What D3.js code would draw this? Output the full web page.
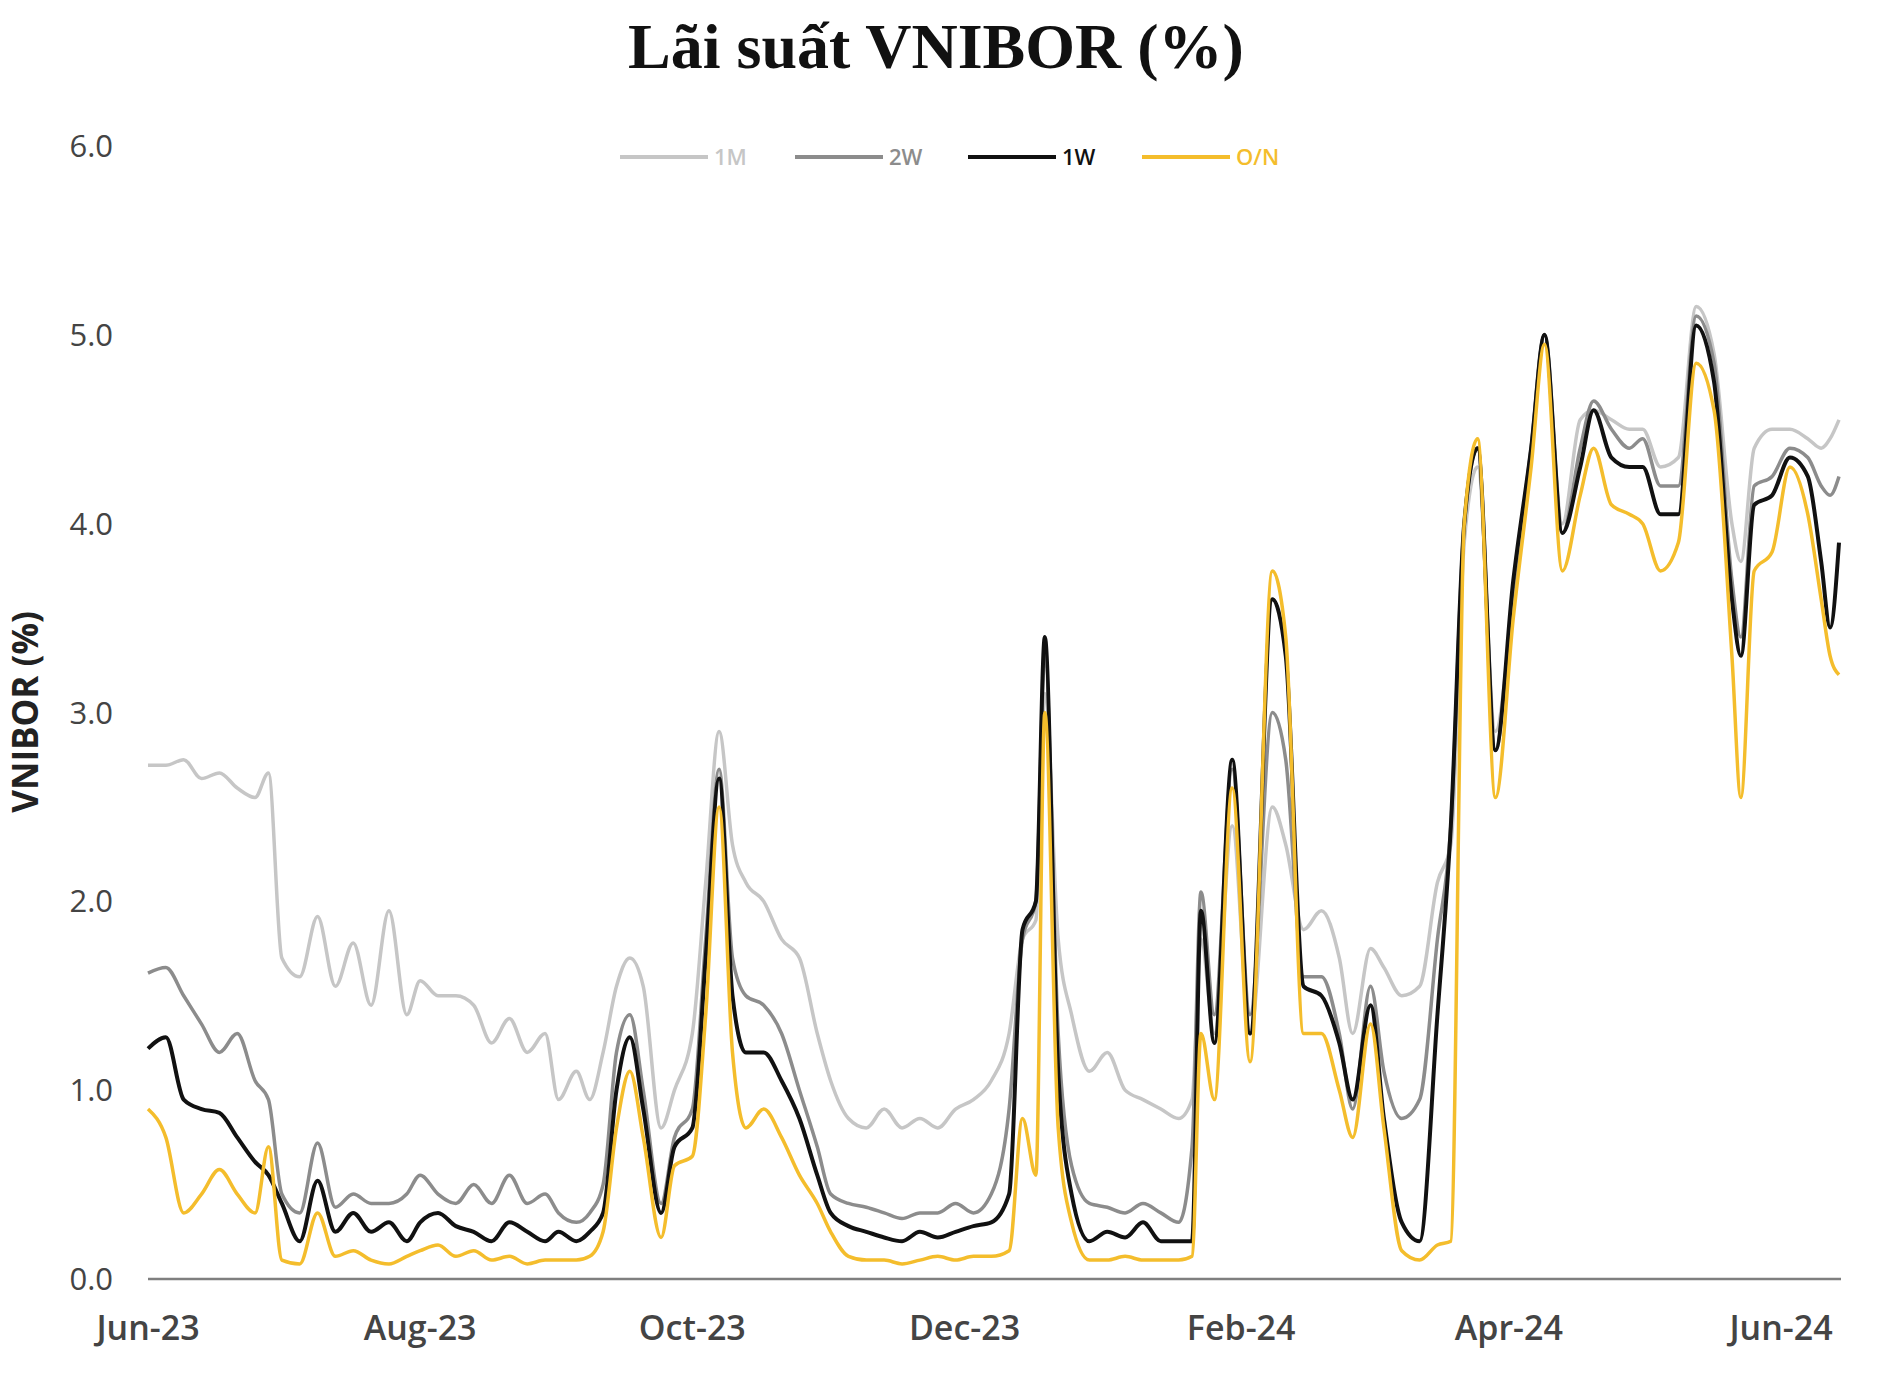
<!DOCTYPE html>
<html><head><meta charset="utf-8">
<script src="https://cdn.jsdelivr.net/npm/d3@7"></script>
<style>body{margin:0;background:#fff}</style>
</head><body>
<svg id="chart" width="1904" height="1376"></svg>
<script>
var dates = ["2023-06-01","2023-06-05","2023-06-09","2023-06-13","2023-06-17","2023-06-21","2023-06-25","2023-06-28",
"2023-07-01","2023-07-05","2023-07-09","2023-07-13","2023-07-17","2023-07-21","2023-07-25","2023-07-29",
"2023-08-01","2023-08-05","2023-08-09","2023-08-13","2023-08-17","2023-08-21","2023-08-25","2023-08-29",
"2023-09-01","2023-09-05","2023-09-08","2023-09-11","2023-09-14","2023-09-17","2023-09-20","2023-09-24","2023-09-27",
"2023-10-01","2023-10-04","2023-10-07","2023-10-10","2023-10-13","2023-10-17","2023-10-21","2023-10-25","2023-10-29",
"2023-11-01","2023-11-05","2023-11-09","2023-11-13","2023-11-17","2023-11-21","2023-11-25","2023-11-29",
"2023-12-03","2023-12-07","2023-12-11","2023-12-14","2023-12-17","2023-12-19","2023-12-22","2023-12-25","2023-12-29",
"2024-01-02","2024-01-06","2024-01-10","2024-01-14","2024-01-18","2024-01-21","2024-01-23","2024-01-26","2024-01-30",
"2024-02-03","2024-02-08","2024-02-11","2024-02-15","2024-02-19","2024-02-23","2024-02-26",
"2024-03-01","2024-03-04","2024-03-08","2024-03-12","2024-03-16","2024-03-19","2024-03-22","2024-03-25","2024-03-29",
"2024-04-02","2024-04-06","2024-04-09","2024-04-13","2024-04-17","2024-04-20","2024-04-24","2024-04-28",
"2024-05-01","2024-05-05","2024-05-09","2024-05-13","2024-05-17","2024-05-21","2024-05-23","2024-05-26","2024-05-30",
"2024-06-03","2024-06-07","2024-06-10","2024-06-12","2024-06-14"];

var m1 = [2.72,2.72,2.75,2.65,2.68,2.60,2.55,2.68, 1.70,1.60,1.92,1.55,1.78,1.45,1.95,1.40,
1.58,1.50,1.50,1.45,1.25,1.38,1.20,1.30, 0.95,1.10,0.95,1.20,1.55,1.70,1.55,0.80,1.00,
1.30,2.10,2.90,2.30,2.10,2.00,1.80,1.70,1.30, 1.05,0.85,0.80,0.90,0.80,0.85,0.80,0.90,
0.95,1.05,1.30,1.80,1.90,3.10,1.80,1.40,1.10, 1.20,1.00,0.95,0.90,0.85,0.95,1.80,1.30,2.40,
1.30,2.50,2.30,1.85,1.95,1.70,1.30, 1.75,1.65,1.50,1.55,2.10,2.30,3.90,4.30,2.90,
3.60,4.40,5.00,4.00,4.55,4.60,4.55,4.50, 4.50,4.30,4.35,5.15,4.90,4.00,3.80,4.40,4.50,
4.50,4.45,4.40,4.45,4.55];
var w2 = [1.62,1.65,1.50,1.35,1.20,1.30,1.05,0.95, 0.45,0.35,0.72,0.38,0.45,0.40,0.40,0.45,
0.55,0.45,0.40,0.50,0.40,0.55,0.40,0.45, 0.35,0.30,0.35,0.50,1.20,1.40,1.00,0.40,0.75,
0.90,1.80,2.70,1.70,1.50,1.45,1.30,1.00,0.70, 0.45,0.40,0.38,0.35,0.32,0.35,0.35,0.40,
0.35,0.45,0.90,1.80,2.00,3.30,1.30,0.60,0.40, 0.38,0.35,0.40,0.35,0.30,0.70,2.05,1.40,2.70,
1.40,3.00,2.75,1.60,1.60,1.30,0.90, 1.55,1.10,0.85,0.95,1.80,2.40,4.00,4.40,2.80,
3.65,4.40,5.00,3.95,4.40,4.65,4.50,4.40, 4.45,4.20,4.20,5.10,4.85,3.70,3.40,4.20,4.25,
4.40,4.35,4.20,4.15,4.25];
var w1 = [1.22,1.28,0.95,0.90,0.88,0.75,0.62,0.55, 0.40,0.20,0.52,0.25,0.35,0.25,0.30,0.20,
0.30,0.35,0.28,0.25,0.20,0.30,0.25,0.20, 0.25,0.20,0.25,0.35,1.00,1.28,0.90,0.35,0.70,
0.80,1.70,2.65,1.50,1.20,1.20,1.05,0.85,0.55, 0.35,0.28,0.25,0.22,0.20,0.25,0.22,0.25,
0.28,0.30,0.45,1.85,2.00,3.40,1.10,0.45,0.20, 0.25,0.22,0.30,0.20,0.20,0.20,1.95,1.25,2.75,
1.30,3.60,3.30,1.55,1.50,1.25,0.95, 1.45,0.85,0.30,0.20,1.40,2.40,4.00,4.40,2.80,
3.70,4.40,5.00,3.95,4.30,4.60,4.35,4.30, 4.30,4.05,4.05,5.05,4.75,3.60,3.30,4.10,4.15,
4.35,4.25,3.80,3.45,3.90];
var on = [0.90,0.75,0.35,0.45,0.58,0.45,0.35,0.70, 0.10,0.08,0.35,0.12,0.15,0.10,0.08,0.12,
0.15,0.18,0.12,0.15,0.10,0.12,0.08,0.10, 0.10,0.10,0.12,0.25,0.80,1.10,0.75,0.22,0.60,
0.65,1.40,2.50,1.20,0.80,0.90,0.75,0.55,0.40, 0.25,0.12,0.10,0.10,0.08,0.10,0.12,0.10,
0.12,0.12,0.15,0.85,0.55,3.00,0.80,0.30,0.10, 0.10,0.12,0.10,0.10,0.10,0.12,1.30,0.95,2.60,
1.15,3.75,3.40,1.30,1.30,1.00,0.75, 1.35,0.80,0.15,0.10,0.18,0.20,4.00,4.45,2.55,
3.50,4.30,4.95,3.75,4.15,4.40,4.10,4.05, 4.00,3.75,3.90,4.85,4.60,3.30,2.55,3.75,3.85,
4.30,4.05,3.60,3.30,3.20];

var seriesNames = ["1M","2W","1W","O/N"];
var seriesColors = ["#c6c6c6","#8c8c8c","#111111","#f4bd2c"];
var yTicks = [0,1,2,3,4,5,6];
var xTickLabels = ["Jun-23","Aug-23","Oct-23","Dec-23","Feb-24","Apr-24","Jun-24"];

var parse = d3.timeParse("%Y-%m-%d");
var svg = d3.select("#chart");
// Jun-23 .. Jun-24 label positions, last data point runs a bit past
var x = d3.scaleTime().domain([parse("2023-06-01"), parse("2024-06-01")]).range([148, 1781]);
var y = d3.scaleLinear().domain([0, 6]).range([1279, 146]);
var xEnd = x(parse(dates[dates.length - 1]));

svg.append("text").attr("x", 936).attr("y", 68).attr("text-anchor", "middle")
  .attr("font-family", "Liberation Serif, serif").attr("font-weight", "bold")
  .attr("font-size", 64).attr("fill", "#111").text("Lãi suất VNIBOR (%)");

svg.selectAll(".ytick").data(yTicks).enter().append("text")
  .attr("x", 113).attr("y", function(d){ return y(d) + 11; }).attr("text-anchor", "end")
  .attr("font-family", "Open Sans").attr("font-size", 31).attr("fill", "#444")
  .text(function(d){ return d.toFixed(1); });

var xTickDates = xTickLabels.map(function(l){ return d3.timeParse("%b-%y")(l); });
svg.selectAll(".xtick").data(xTickLabels).enter().append("text")
  .attr("x", function(d, i){ return x(xTickDates[i]); }).attr("y", 1340).attr("text-anchor", "middle")
  .attr("font-family", "Open Sans").attr("font-weight", 600).attr("font-size", 34).attr("fill", "#444")
  .text(function(d){ return d; });

svg.append("line").attr("x1", 148).attr("x2", xEnd + 2).attr("y1", y(0)).attr("y2", y(0))
  .attr("stroke", "#7f7f7f").attr("stroke-width", 2.5);

svg.append("text").attr("transform", "translate(38,712) rotate(-90)").attr("text-anchor", "middle")
  .attr("font-family", "Open Sans").attr("font-weight", "bold").attr("font-size", 35).attr("fill", "#222")
  .text("VNIBOR (%)");

var allSeries = [m1, w2, w1, on];
var line = d3.line().x(function(d){ return x(d.date); }).y(function(d){ return y(d.v); }).curve(d3.curveMonotoneX);
allSeries.forEach(function(vals, k){
  var pts = dates.map(function(dt, i){ return {date: parse(dt), v: vals[i]}; });
  svg.append("path").datum(pts).attr("d", line).attr("fill", "none")
    .attr("stroke", seriesColors[k]).attr("stroke-width", k == 2 ? 4 : 3.5).attr("stroke-linejoin", "round");
});

var legX = [620, 795, 968, 1142];
seriesNames.forEach(function(n, k){
  svg.append("line").attr("x1", legX[k]).attr("x2", legX[k] + 88).attr("y1", 157).attr("y2", 157)
    .attr("stroke", seriesColors[k]).attr("stroke-width", 4);
  svg.append("text").attr("x", legX[k] + 94).attr("y", 165).attr("font-family", "Open Sans")
    .attr("font-weight", 600).attr("font-size", 22).attr("fill", seriesColors[k]).text(n);
});
</script>
</body></html>
